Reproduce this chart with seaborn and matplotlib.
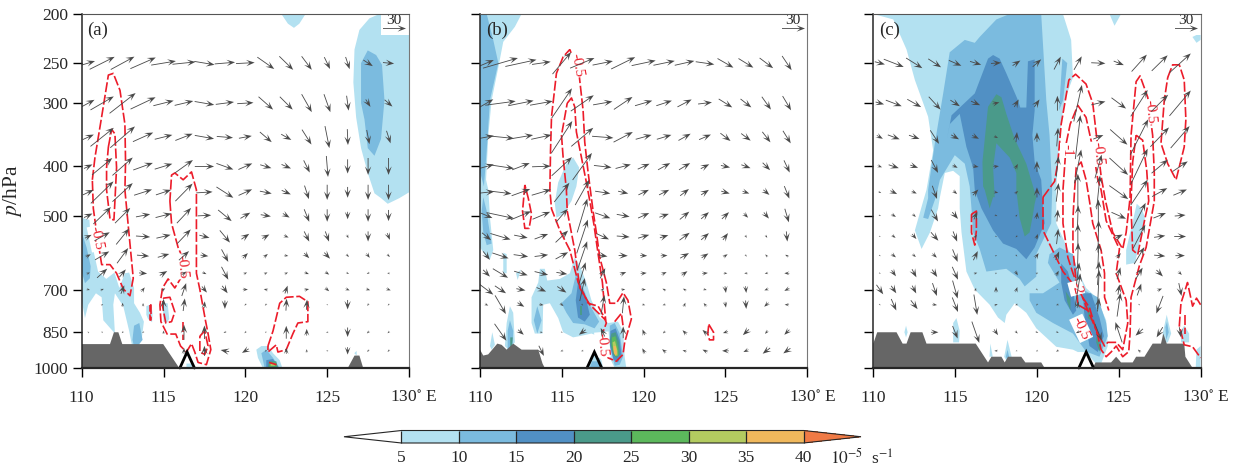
import numpy as np
import matplotlib
matplotlib.use('Agg')
import matplotlib.pyplot as plt
from matplotlib.cm import ScalarMappable
from matplotlib.colors import BoundaryNorm, ListedColormap
from matplotlib.patches import Rectangle
from matplotlib.transforms import ScaledTranslation
import seaborn as sns

# vector grid, all panels
lon_cols = [110.4, 111.25, 112.5, 113.75, 115, 116.25, 117.5, 118.75, 120, 121.25, 122.5, 123.75, 125, 126.25, 127.5, 128.75]
p_rows = [250, 300, 350, 400, 450, 500, 550, 600, 650, 700, 750, 850, 925]

# vectors, a 30 reference arrow measures 68 of these units
u_a = [[40,74,70,75,73,68,60,60,55,50,41,30,17,12,28,33],
       [37,69,77,74,60,55,58,54,48,43,38,30,19,6,14,23],
       [33,69,73,60,52,51,57,48,38,35,30,28,13,2,8,12],
       [25,60,60,58,52,53,57,50,41,33,28,18,5,0,0,0],
       [32,67,60,53,45,51,48,50,40,35,27,13,0,0,0,0],
       [25,52,45,42,47,42,40,40,29,30,20,15,0,0,0,0],
       [20,45,38,42,42,40,30,30,23,21,14,15,11,5,0,8],
       [15,42,33,36,34,30,23,20,15,12,12,15,17,8,10,8],
       [10,30,19,24,22,15,12,20,10,10,10,13,12,8,-8,-8],
       [10,10,10,10,10,13,15,16,15,-12,8,14,12,12,12,13],
       [0,6,0,0,0,5,2,0,-6,-6,2,2,-5,0,-5,-5],
       [-3,3,-5,-6,0,0,0,-8,-5,-3,0,0,-7,0,-7,-6],
       [0,0,0,0,0,0,0,-25,-20,-5,0,0,-6,0,-6,-6]]
w_a = [[12,37,38,33,12,7,-10,5,3,-35,-40,-40,-35,-36,-18,-3],
       [20,40,60,35,15,13,-10,7,3,-38,-38,-53,-53,-44,-22,-20],
       [15,55,63,27,13,20,-10,-4,7,-30,-17,-44,-65,-47,-42,-37],
       [12,50,53,21,16,38,0,-18,18,-10,-12,-36,-62,-42,-50,-50],
       [15,65,55,17,15,52,3,-32,18,-7,-12,-40,-45,-32,-45,-45],
       [12,50,45,8,12,45,2,-33,17,-5,-12,-37,-37,-22,-37,-33],
       [10,25,47,-3,10,42,-8,-36,16,12,-6,-30,-30,-10,-30,-20],
       [8,25,45,-3,10,27,-3,-37,15,10,-2,-15,-18,-8,-13,-8],
       [5,27,23,-2,13,10,-5,-38,5,5,5,-5,-8,-4,-4,1],
       [-3,4,25,13,8,38,-18,-22,0,3,23,3,-10,-5,-4,-5],
       [0,4,12,10,35,37,20,-25,-5,-5,35,30,0,-28,-7,-5],
       [5,-5,-5,-3,10,45,40,-3,-6,-5,38,20,0,-28,-7,-6],
       [0,0,0,0,0,18,30,5,-12,-5,18,10,0,-22,-6,-6]]

u_b = [[43,103,92,55,55,72,60,71,71,63,58,55,47,44,40,28],
       [40,90,75,67,60,68,57,55,51,46,42,41,40,32,27,25],
       [43,80,72,60,62,65,63,57,47,43,36,35,30,28,24,23],
       [43,80,52,55,60,57,52,45,35,36,33,25,27,27,22,17],
       [46,65,55,57,45,42,45,30,31,30,26,23,25,20,18,15],
       [35,80,60,52,35,30,45,38,33,28,28,23,21,13,15,12],
       [27,60,40,40,37,33,37,38,33,25,30,23,15,5,5,3],
       [20,48,43,40,37,29,28,27,21,20,26,20,13,5,-6,-10],
       [20,45,40,40,32,20,15,18,18,15,17,17,11,-10,-10,-15],
       [40,33,27,28,27,15,8,12,13,-10,-10,10,3,2,-12,-15],
       [10,32,20,13,10,5,10,5,9,-9,5,-8,3,2,-13,-13],
       [0,35,17,8,5,-20,-12,0,-7,-7,-12,-15,-15,-18,-8,-15],
       [0,0,0,15,-8,-7,0,0,-8,-12,-12,-15,-20,-15,-22,-21]]
w_b = [[18,30,20,8,65,30,12,35,15,13,13,-8,-27,-27,-30,-42],
       [23,12,15,12,88,47,10,37,15,15,22,5,-25,-25,-38,-42],
       [8,-8,12,13,95,55,-5,30,13,13,20,15,-23,-21,-31,-37],
       [12,-12,20,2,55,80,-6,12,16,20,20,13,-6,-10,-22,-36],
       [5,-8,20,17,57,75,-7,-7,15,15,20,15,-7,-7,-15,-37],
       [-15,-17,25,22,40,100,-16,-7,15,10,23,20,20,-13,-18,-40],
       [-22,-18,-8,15,35,100,-17,-3,10,8,22,20,20,-8,-8,-30],
       [-25,-16,-6,5,20,85,-5,-1,-1,1,15,13,8,-6,8,5],
       [-20,-27,-12,-10,-5,65,30,7,2,7,12,2,0,0,-2,0],
       [-30,-22,-5,-12,-18,68,10,2,0,5,5,-3,-20,-20,-5,-8],
       [-5,-55,-12,-2,-8,-5,57,50,-3,-3,12,10,-17,-25,-12,0],
       [0,-50,-15,0,-3,-15,25,35,17,-7,12,14,-5,-17,-10,-15],
       [0,0,0,-30,-3,-2,0,0,15,10,3,7,0,-7,-17,-15]]

u_c = [[30,59,48,38,37,33,30,23,25,20,23,42,30,45,47,63],
       [25,47,41,35,28,27,20,13,15,0,24,42,43,50,50,63],
       [18,35,31,26,23,20,12,3,0,4,15,30,51,53,55,56],
       [13,30,23,20,15,18,17,8,0,7,20,20,55,50,48,45],
       [8,20,15,14,12,16,13,10,0,7,0,10,56,50,45,40],
       [6,13,10,20,17,10,8,5,2,3,2,0,43,38,37,32],
       [5,11,13,22,12,8,5,-6,5,5,0,2,23,36,33,35],
       [5,13,10,13,15,13,6,5,10,10,2,3,12,30,33,28],
       [5,13,13,15,17,10,6,8,7,8,8,5,10,20,19,10],
       [20,15,12,13,15,3,0,5,5,5,15,5,5,12,14,8],
       [5,15,20,14,17,10,10,-8,-5,-8,5,5,10,5,-20,0],
       [0,0,0,22,15,22,12,7,8,8,-12,20,-20,-22,-18,5],
       [0,0,0,0,0,0,-10,-5,-6,-8,0,0,0,-8,0,0]]
w_c = [[-8,-23,-30,-25,-16,-10,2,15,22,38,40,-2,-12,50,46,57],
       [-7,-18,-23,-38,-18,-12,5,22,22,44,108,10,-32,78,50,75],
       [-10,-13,-11,-40,-13,-10,-5,30,28,55,130,12,-45,105,57,65],
       [-5,-10,-8,-38,-8,-3,2,15,32,60,100,70,-50,105,40,30],
       [-4,-10,-7,-39,-10,17,-3,8,30,55,110,100,-40,75,25,17],
       [-3,-8,-8,-35,-20,23,-3,6,20,35,60,95,-19,75,15,3],
       [-2,-8,-15,-25,-30,10,-3,-5,15,45,75,95,12,70,5,0],
       [-3,-10,-8,-12,-37,27,2,-5,15,25,75,75,15,50,-3,0],
       [-3,-18,-24,-22,-38,3,2,-13,3,15,63,70,35,33,-19,-10],
       [-28,-22,-23,-38,-53,10,17,15,-5,0,95,115,30,35,6,-38],
       [-3,-34,-26,-2,-43,-60,3,-3,-5,-3,20,40,70,-3,-52,0],
       [0,0,0,0,-37,-63,-17,-8,-3,-3,-5,-50,60,-20,-30,-30],
       [0,0,0,0,0,0,0,-2,-3,-5,0,0,0,8,0,0]]

# terrain and surface marker
a_terrain = [[(110,1000),(110,897),(111.73,897),(111.97,850),(112.24,850),(112.48,897),(114.98,897),(115.96,1000)],
             [(126.26,1000),(126.67,945),(126.97,945),(127.2,1000)]]
b_terrain = [[(110,1000),(110,920),(110.2,945),(110.5,940),(111.06,895),(111.32,900),(111.63,920),(112.03,895),(112.54,920),(113.56,920),(113.82,980),(113.96,1000)]]
c_terrain = [[(110,1000),(110,895),(110.24,850),(111.42,850),(111.79,895),(112.03,895),(112.28,850),(113.0,850),(113.25,895),(116.26,895),(117.01,975),(117.22,950),(117.83,950),(118.03,975),(118.23,950),(119.04,950),(119.29,975),(120.26,975),(120.47,1000)],
             [(123.41,1000),(123.58,975),(124.53,975),(124.84,950),(125.14,975),(125.85,975),(126.06,950),(126.57,950),(127.07,895),(127.58,895),(127.72,855),(127.93,895),(129.0,895),(129.07,950),(129.51,1000)]]
a_mark = [(116.0,1000),(116.44,930),(116.89,1000)]
b_mark = [(116.54,1000),(116.99,930),(117.44,1000)]
c_mark = [(122.56,1000),(123.01,930),(123.46,1000)]

# shaded outlines per level, lon/hPa
a_5 = [[(128.19,200),(127.58,204),(126.97,215),(126.67,235),(126.6,273),(126.77,320),(127.07,368),(127.48,412),(127.89,452),(128.29,462),(128.7,474),(129.41,462),(130,450),(130,200)],
       [(122.2,200),(122.6,209),(122.97,213),(123.3,209),(123.68,200)],
       [(110,505),(110.47,510),(110.55,550),(110.71,585),(111,645),(111.5,667),(112,648),(112.3,695),(112.64,650),(112.9,648),(113.2,695),(113.2,745),(113.56,778),(113.8,810),(113.66,880),(113.25,920),(113.05,895),(112.9,845),(112.54,755),(112.03,712),(111.93,750),(112.03,855),(111.32,805),(111.22,725),(110.87,712),(110.4,750),(110.2,797),(110,735)],
       [(113.95,755),(114.25,748),(114.33,780),(114.3,812),(114.05,800),(113.95,785)],
       [(114.95,745),(115.25,745),(115.35,800),(115.2,815),(115,810)],
       [(116.4,980),(116.75,980),(116.8,1000),(116.4,1000)],
       [(120.67,920),(120.98,905),(121.38,905),(121.69,935),(122.1,965),(122.26,1000),(121.07,1000),(120.77,955)],
       [(126.66,935),(126.8,925),(126.8,945)]]
a_10 = [[(127.48,236),(127.99,241),(128.35,252),(128.5,296),(128.29,353),(127.89,381),(127.48,368),(127.28,323),(127.07,300),(127.07,250)],
        [(110,540),(110.3,578),(110.55,630),(110.5,665),(110.2,680),(110,645)],
        [(113.2,825),(113.52,815),(113.72,880),(113.25,920),(113.1,880)],
        [(120.98,935),(121.28,920),(121.69,955),(122.1,1000),(121.18,1000)]]
a_15 = [[(121.28,965),(121.69,960),(122,995),(121.28,1000)]]
a_20 = [[(121.44,970),(121.89,970),(121.99,1000),(121.38,1000)]]
a_25 = [[(121.48,975),(121.85,975),(121.93,993),(121.48,993)]]
a_30 = [[(121.55,980),(121.78,980),(121.8,990),(121.55,990)]]

b_5 = [[(110,200),(112.54,200),(112.13,212),(111.42,227),(111.12,255),(110.71,296),(110.51,347),(110.37,425),(110.51,445),(110.61,505),(110.81,585),(110.61,610),(110.41,605),(110,578)],
       [(115.69,384),(116.06,402),(115.89,438),(115.59,468),(115.08,497),(114.67,505),(114.57,472),(114.78,430),(115.28,395)],
       [(115.79,605),(116.1,628),(116.5,678),(116.81,735),(117.32,795),(117.83,815),(118.43,810),(118.74,845),(118.84,950),(118.94,1000),(118.23,1000),(117.93,955),(117.22,865),(116.81,855),(116.1,865),(115.69,870),(115.08,850),(114.78,797),(114.27,745),(113.86,750),(113.82,855),(113.35,855),(113.15,815),(113.15,725),(113.56,678),(113.66,637),(113.96,637),(114.11,672),(114.88,667),(115.49,650)],
       [(111.42,592),(111.63,596),(111.63,650),(111.42,650)],
       [(112.2,650),(112.5,640),(112.3,670)],
       [(111.83,755),(112.03,778),(112.13,890),(111.73,920),(111.52,905),(111.63,815)],
       [(110.75,850),(110.91,900),(110.71,920),(110.61,905)],
       [(116.6,1000),(116.81,945),(117.01,930),(117.42,965),(117.52,1000)]]
b_10 = [[(110,200),(110.41,200),(110.81,225),(111.12,250),(110.61,296),(110.41,372),(110.24,438),(110,410)],
        [(110.2,460),(110.41,490),(110.51,518),(110.71,568),(110.41,572),(110.2,540),(110.1,490)],
        [(115.89,648),(116.34,700),(116.75,755),(117.28,810),(117,835),(116.4,820),(115.69,815),(115.28,778),(114.98,745),(115.59,712)],
        [(113.5,755),(113.76,805),(113.5,855),(113.29,805)],
        [(111.83,805),(112.03,845),(111.99,905),(111.69,920),(111.69,845)],
        [(117.93,825),(118.23,815),(118.54,855),(118.74,950),(118.54,985),(118.23,990),(117.93,905)],
        [(116.85,970),(117.25,970),(117.45,1000),(116.7,1000)]]
b_15 = [[(115.99,678),(116.4,712),(116.71,785),(116.4,810),(115.99,795),(115.85,735)],
        [(117.97,845),(118.29,835),(118.54,880),(118.64,940),(118.43,975),(118.17,965),(117.93,900)]]
b_20 = [[(116.1,755),(116.25,755),(116.25,785),(116.1,785)],
        [(111.85,870),(112,870),(111.95,915),(111.85,915)],
        [(118.03,855),(118.29,850),(118.5,890),(118.54,940),(118.33,955),(118.13,940),(117.93,885)]]
b_25 = [[(118.07,870),(118.27,865),(118.45,915),(118.47,945),(118.3,950),(118.15,930),(118.05,900)]]
b_30 = [[(118.1,890),(118.25,885),(118.4,925),(118.4,945),(118.25,945),(118.15,920)]]
b_35 = [[(118.15,905),(118.3,905),(118.38,935),(118.3,945),(118.18,935)]]

c_5 = [[(110,200),(111.22,205),(112.03,235),(112.54,270),(113.35,319),(113.66,372),(113.25,445),(113.05,468),(112.54,535),(112.95,582),(113.46,540),(113.96,484),(114.07,460),(114.37,412),(114.88,408),(115.28,418),(115.28,484),(115.39,540),(115.69,645),(116.2,700),(117.11,750),(117.62,795),(118.03,815),(118.13,785),(118.64,745),(119.35,778),(119.96,835),(121.18,908),(122.2,920),(122.5,930),(123,930),(123.82,1000),(124.33,905),(124.23,805),(123.62,725),(123,695),(121.89,582),(121.18,518),(121.18,445),(121.38,347),(121.69,296),(122.2,267),(122.09,225),(121.59,200)],
       [(124.43,200),(124.74,211),(125.14,200)],
       [(129.5,222),(129.75,228),(130,225),(130,218)],
       [(114.88,815),(115.08,797),(115.28,845),(115.24,890),(114.88,890)],
       [(112,825),(112.1,850),(112,870),(111.9,850)],
       [(118.2,880),(118.45,950),(118.2,975),(118,950)],
       [(117.15,895),(117.3,950),(117.1,950)],
       [(125.45,585),(126.1,474),(126.4,484),(126.6,505),(126.4,540),(126,620),(125.45,625)],
       [(127.68,855),(127.93,785),(128.2,855),(128,890),(127.72,890)],
       [(129,825),(129.3,855),(129.3,890),(128.8,890),(128.8,845)],
       [(129.75,920),(130,905),(130,1000),(129.7,1000)]]
c_10 = [[(118.33,200),(117.52,205),(116.5,222),(116.2,228),(115.59,225),(114.67,238),(114.27,287),(113.76,360),(113.35,445),(113.35,462),(113.05,505),(113.35,508),(113.82,460),(114.07,425),(114.98,380),(115.59,395),(115.89,438),(116,484),(116.1,540),(116.5,582),(116.91,645),(118.13,637),(118.94,667),(119.25,690),(119.96,660),(119.96,596),(120.87,518),(120.93,445),(120.77,347),(120.57,296),(120.26,200)],
        [(121.55,245),(121.85,250),(121.6,296),(121.35,310)],
        [(120.77,596),(121.38,578),(122.2,596),(122.8,700),(123.72,725),(124.23,815),(124.33,865),(123.82,950),(123,928),(122.2,855),(120.98,815),(119.96,778),(119.55,735),(119.55,712),(120.37,712),(121.38,678),(120.67,620)],
        [(118.2,920),(118.3,950),(118.2,965),(118.1,950)],
        [(127.85,830),(127.95,810),(128.05,850),(127.9,880)]]
c_15 = [[(117.32,241),(117.72,245),(118.13,262),(118.84,296),(118.98,306),(119.35,306),(119.45,248),(119.86,246),(119.86,310),(119.72,347),(119.86,392),(120.26,425),(120.37,484),(120.47,518),(119.86,578),(119.35,610),(118.74,582),(117.93,568),(117.32,535),(116.61,484),(116.2,445),(116.1,402),(115.69,366),(115.28,315),(114.67,330),(114.5,353),(114.78,317),(116.2,287),(117.01,245)],
        [(121.48,622),(121.89,645),(122.2,700),(122.4,770),(122.2,785),(121.69,735),(121.48,678)],
        [(122.8,712),(123.31,712),(123.82,795),(124.09,865),(123.72,930),(123.21,905),(122.91,797)]]
c_20 = [[(117.52,288),(117.83,292),(118.13,315),(118.64,353),(119.35,395),(119.96,460),(119.86,474),(119.76,497),(119.55,540),(119.25,550),(118.94,505),(118.74,445),(118.74,412),(118.33,384),(117.52,360),(117.32,402),(117.42,460),(117.32,460),(117.11,484),(116.81,445),(116.71,438),(116.67,392),(117.01,305)],
        [(121.75,705),(122.05,730),(122.05,770),(121.85,740)],
        [(123.11,755),(123.31,778),(123.41,810),(123.11,797)],
        [(123.62,865),(123.92,905),(123.82,928),(123.62,890)]]

# red contours of vertical velocity
a_red = [[(110.65,425),(110.81,384),(111.22,319),(111.63,264),(111.93,262),(112.34,283),(112.64,330),(112.68,392),(112.64,445),(112.85,526),(113.15,665),(112.95,720),(112.54,698),(112.13,650),(111.73,625),(111.22,625),(110.91,540),(110.71,484)],
         [(111.63,366),(111.83,338),(112.03,345),(112.13,402),(112.03,468),(111.97,510),(111.73,508),(111.52,445),(111.52,402)],
         [(115.39,468),(115.49,518),(115.89,578),(116.16,605),(116.3,645),(115.69,695),(115.28,667),(114.94,695),(114.78,750),(114.84,810),(115.22,857),(115.75,857),(116.04,905),(116.4,930),(116.71,895),(116.91,930),(117.11,975),(117.62,985),(117.89,920),(117.72,855),(117.56,805),(117.22,700),(117.01,650),(117.01,445),(116.71,410),(116.2,425),(115.69,412),(115.49,416)],
         [(114.98,728),(115.39,725),(115.69,775),(115.49,810),(115.14,815),(114.94,755)],
         [(114.17,750),(114.25,750),(114.25,805),(114.17,805)],
         [(117.22,865),(117.52,845),(117.72,905),(117.52,940),(117.22,930)],
         [(121.38,905),(121.69,845),(122.1,745),(122.5,725),(123.31,722),(123.82,740),(123.82,810),(123.21,815),(122.91,855),(122.5,920),(121.99,930),(121.89,900),(121.38,930)]]
a_red_open = [[(116.2,812),(116.2,880)],
              [(121.45,975),(121.9,985)]]
b_red = [[(115.49,235),(115.79,250),(116.06,264),(116.3,310),(116.4,358),(116.61,412),(116.91,490),(117.11,540),(117.32,605),(117.72,678),(117.93,745),(118.33,745),(118.74,710),(119.04,735),(119.25,800),(119.04,845),(118.84,890),(118.74,940),(118.33,970),(117.83,955),(117.56,905),(117.42,865),(117.72,815),(117.62,797),(117.22,755),(116.61,745),(116,678),(115.49,585),(114.88,535),(114.37,485),(114.27,445),(114.31,372),(114.37,319),(114.67,262),(115.08,243)],
         [(115.33,300),(115.59,293),(115.79,305),(115.89,342),(116.2,384),(116.5,430),(116.71,468),(116.95,518),(117.22,596),(117.48,678),(117.68,805),(117.22,778),(116.71,750),(116.1,695),(115.79,585),(115.33,490),(115.28,445),(115.08,384),(114.98,347)],
         [(112.74,435),(112.6,490),(112.74,530),(113,530),(113.15,497),(112.95,462)],
         [(123.98,820),(124.27,850),(124.27,880),(124.02,880),(123.92,855)]]
b_red_open = [[(118.23,810),(118.64,780),(118.74,825)]]
c_red = [[(120.37,460),(121.08,428),(121.28,392),(121.48,330),(121.95,270),(122.36,263),(123,275),(123.41,300),(123.66,353),(123.92,418),(124.19,468),(124.63,540),(125.24,582),(125.45,540),(125.65,474),(125.69,460),(125.75,347),(126.06,272),(126.3,265),(126.77,292),(127.07,347),(127.17,412),(127.17,468),(126.67,578),(126.26,628),(125.75,725),(125.69,855),(125.61,928),(125.24,950),(124.84,905),(124.53,930),(124.23,950),(123.92,920),(123.72,865),(123.21,760),(122.4,695),(121.59,645),(120.87,578),(120.37,535)],
         [(121.79,360),(122.03,330),(122.5,303),(123,320),(123.41,368),(123.72,425),(123.92,445),(124.23,512),(125.04,582),(124.84,650),(125.45,735),(125.55,815),(125.24,920),(124.84,890),(124.33,890),(124.13,905),(123.72,855),(123,755),(122.2,650),(121.89,605),(121.59,518),(121.59,445)],
         [(127.99,267),(128.29,252),(128.7,252),(129,270),(129.1,323),(129,366),(128.5,425),(127.99,395),(127.58,360),(127.78,296)],
         [(126.06,347),(126.46,355),(126.71,408),(126.83,468),(126.57,512),(126.16,597),(125.85,585),(125.75,484),(125.75,468),(125.85,392)],
         [(116,497),(116.3,490),(116.3,535),(116.2,572),(116,540)]]
c_red_open = [[(123.11,770),(122.5,750),(122.4,678),(122.2,585),(122.2,505),(122.3,445),(122.4,402),(122.7,392),(123,425),(123.21,468),(123.41,518),(123.92,585),(124.13,650),(124.13,725),(124.39,770)],
              [(130,750),(129.75,728),(129.51,755),(129.2,678),(128.8,745),(128.7,825),(129,900),(129.51,908),(130,955)],
              [(129.05,785),(129.05,855)]]

# contour labels: text, lon, hPa, angle
a_labels = [('-0.5',110.9,555,-78),('-0.5',116.1,630,-85)]
b_labels = [('-0.5',115.9,252,-80),('-0.5',117.48,900,-85)]
c_labels = [('-1',121.83,372,-90),('-0.5',123.7,378,-85),('-0.5',126.9,312,-85),('-2',122.4,695,-75),('-0.5',122.7,835,-65)]

levels = [5, 10, 15, 20, 25, 30, 35, 40]
fill_colors = ['#B3E1F1', '#7BBBDF', '#5190C4', '#4A9A8A', '#5CB85C', '#B3CB60', '#F0B85C', '#F07A45']
xticks = [110, 115, 120, 125, 130]
xtick_labels = ['110', '115', '120', '125', '130$^{\\circ}$ E']
yticks = [200, 250, 300, 400, 500, 700, 850, 1000]

sns.set_style('ticks')
plt.rcParams['font.family'] = ['Liberation Serif', 'DejaVu Serif']
plt.rcParams['mathtext.fontset'] = 'stix'

palette = sns.color_palette(fill_colors)
W, H = 1237, 471
fig = plt.figure(figsize=(W / 100, H / 100), dpi=100)


def draw_panel(left, letter, fills, terrain, mark, red, red_open, labels, u, w):
    ax = fig.add_axes([left / W, 1 - 368 / H, 327.3 / W, 354 / H])
    ax.set_yscale('log')
    for lev, polys in fills.items():
        for poly in polys:
            xs, ys = zip(*poly)
            ax.fill(xs, ys, color=palette[levels.index(lev)], lw=0, zorder=1 + lev / 100)
    for poly in terrain:
        xs, ys = zip(*poly)
        ax.fill(xs, ys, color='#666666', lw=0, zorder=2)
    for line, closed in [(l, True) for l in red] + [(l, False) for l in red_open]:
        pts = list(line) + [line[0]] if closed else line
        xs, ys = zip(*pts)
        sns.lineplot(x=list(xs), y=list(ys), sort=False, estimator=None, ax=ax, color='#EC1C2A',
                     linewidth=1.2, linestyle=(0, (6, 1.6)), legend=False, zorder=3)
    lon_grid, p_grid = np.meshgrid(lon_cols, p_rows)
    uu = np.ma.masked_where((np.array(u) == 0) & (np.array(w) == 0), np.array(u) * 30 / 68)
    ww = np.ma.masked_where((np.array(u) == 0) & (np.array(w) == 0), np.array(w) * 30 / 68)
    q = ax.quiver(lon_grid, p_grid, uu, ww, angles='uv', scale_units='dots', scale=30 / 23, pivot='mid',
                  units='dots', width=0.85, headwidth=7.5, headlength=10, headaxislength=6, minlength=0.3,
                  color='#4a4a4a', zorder=4)
    for txt, lon, p, ang in labels:
        ax.text(lon, p, txt, color='#EC1C2A', fontsize=11, rotation=ang, ha='center', va='center', zorder=3.5,
                bbox=dict(facecolor='white', edgecolor='none', pad=0.6))
    ax.add_patch(Rectangle((0.915, 0.94), 0.085, 0.06, transform=ax.transAxes, facecolor='white',
                           edgecolor='none', zorder=3.8))
    ax.quiverkey(q, 0.955, 0.96, 30, '30', labelpos='N', coordinates='axes', labelsep=0.01,
                 fontproperties={'size': 11})
    xs, ys = zip(*mark)
    ax.plot(xs, ys, color='black', lw=2, zorder=6, clip_on=False, solid_joinstyle='miter')
    ax.set_xlim(110, 130)
    ax.set_ylim(1000, 200)
    ax.set_xticks(xticks)
    ax.set_xticklabels(xtick_labels, fontsize=12.5)
    ax.set_yticks(yticks)
    ax.minorticks_off()
    ax.tick_params(axis='x', length=6.5, width=1, color='black', pad=9)
    ax.tick_params(axis='y', length=6.5, width=1, color='black', pad=3)
    ax.yaxis.set_major_formatter(matplotlib.ticker.FixedFormatter([str(t) for t in yticks]))
    # the last label carries the unit and sits a little right of its tick
    last = ax.get_xticklabels()[-1]
    last.set_transform(last.get_transform() + ScaledTranslation(5 / 100, 0, fig.dpi_scale_trans))
    ax.set_xlabel('')
    ax.set_ylabel('')
    ax.spines['left'].set_linewidth(1.1)
    ax.spines['bottom'].set_linewidth(1.6)
    ax.spines['right'].set_color('#777777')
    ax.spines['top'].set_color('#555555')
    for sp in ax.spines.values():
        sp.set_zorder(7)
    ax.text(0.018, 0.953, letter, transform=ax.transAxes, fontsize=13.5, ha='left', va='center', zorder=5)
    return ax


ax_a = draw_panel(81.7, '(a)', {5: a_5, 10: a_10, 15: a_15, 20: a_20, 25: a_25, 30: a_30},
                  a_terrain, a_mark, a_red, a_red_open, a_labels, u_a, w_a)
ax_a.tick_params(axis='y', labelsize=12.5)
ax_a.set_ylabel('$p$/hPa', fontsize=15.5)
ax_a.yaxis.set_label_coords((24 - 81.7) / 327.3, 0.5)

ax_b = draw_panel(480, '(b)', {5: b_5, 10: b_10, 15: b_15, 20: b_20, 25: b_25, 30: b_30, 35: b_35},
                  b_terrain, b_mark, b_red, b_red_open, b_labels, u_b, w_b)
ax_b.tick_params(axis='y', labelleft=False)

ax_c = draw_panel(873.3, '(c)', {5: c_5, 10: c_10, 15: c_15, 20: c_20},
                  c_terrain, c_mark, c_red, c_red_open, c_labels, u_c, w_c)
ax_c.tick_params(axis='y', labelleft=False)

# colour bar, white lower extension
cmap = ListedColormap(palette[:-1])
cmap.set_under('white')
cmap.set_over(palette[-1])
norm = BoundaryNorm(levels, cmap.N)
cax = fig.add_axes([344 / W, 1 - 443 / H, 517 / W, 12.5 / H])
cb = fig.colorbar(ScalarMappable(norm=norm, cmap=cmap), cax=cax, orientation='horizontal', extend='both',
                  extendfrac=0.143, ticks=levels, drawedges=True)
cb.ax.tick_params(length=0, labelsize=12.5, pad=5)
cb.outline.set_linewidth(0.8)
cb.dividers.set_linewidth(0.9)
fig.text(830 / W, 1 - 458 / H, '$10^{-5}$  s$^{-1}$', fontsize=12.5, ha='left', va='center')

fig.savefig('out.png', dpi=100)
